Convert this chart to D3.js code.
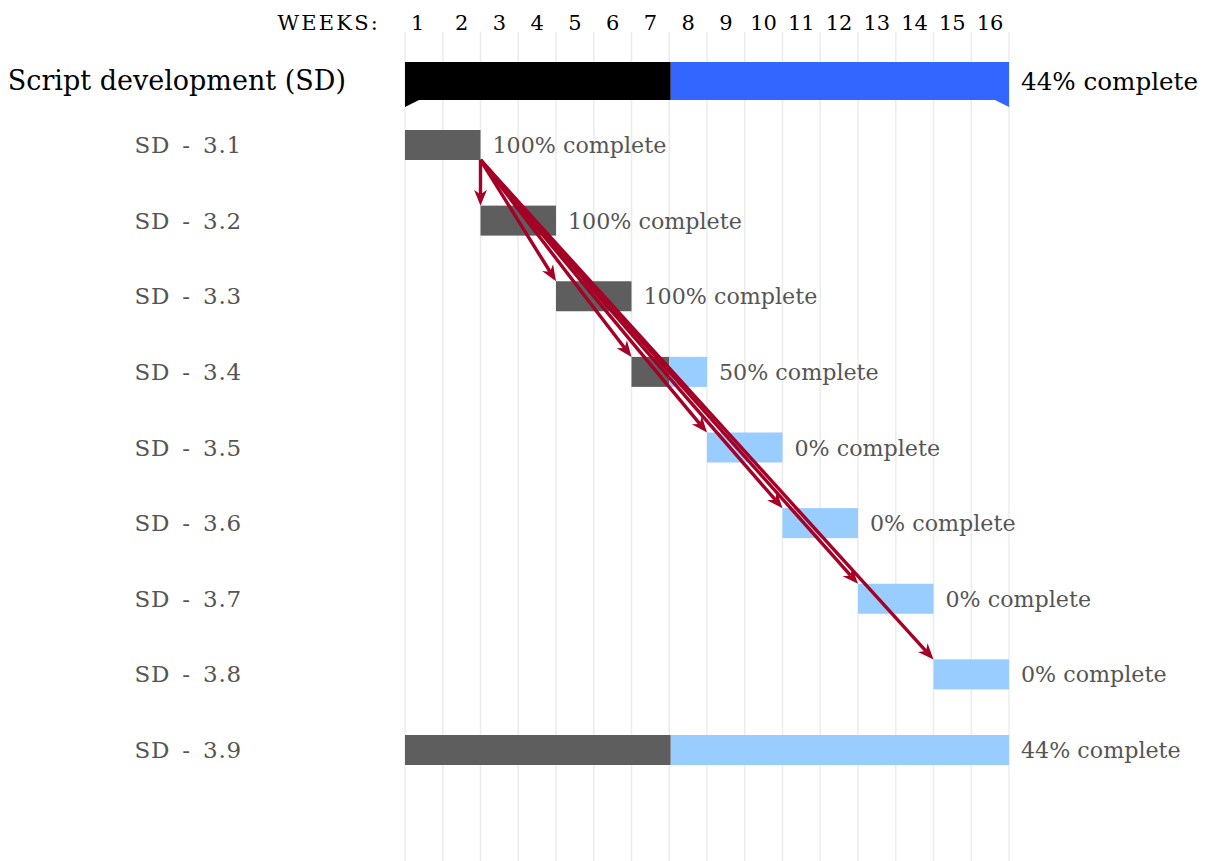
<!DOCTYPE html>
<html><head><meta charset="utf-8">
<script src="https://cdn.jsdelivr.net/npm/d3@7"></script>
<style>body{margin:0;background:#fff}svg{display:block}</style>
</head><body>
<svg id="c" width="1207" height="861"></svg>
<script>
const weeks = ["1","2","3","4","5","6","7","8","9","10","11","12","13","14","15","16"];
const groupName = "Script development (SD)";
const groupStart = 1, groupEnd = 16, groupProgress = 44;
const taskNames = ["SD - 3.1","SD - 3.2","SD - 3.3","SD - 3.4","SD - 3.5","SD - 3.6","SD - 3.7","SD - 3.8","SD - 3.9"];
const taskStart = [1, 3, 5, 7, 9, 11, 13, 15, 1];
const taskEnd   = [2, 4, 6, 8, 10, 12, 14, 16, 16];
const taskProgress = [100, 100, 100, 50, 0, 0, 0, 0, 44];
const linkFrom = ["SD - 3.1","SD - 3.1","SD - 3.1","SD - 3.1","SD - 3.1","SD - 3.1","SD - 3.1"];
const linkTo   = ["SD - 3.2","SD - 3.3","SD - 3.4","SD - 3.5","SD - 3.6","SD - 3.7","SD - 3.8"];

const FONT = "'DejaVu Serif', serif";
const svg = d3.select("#c");
const x = d3.scaleLinear().domain([0, 16]).range([405, 1009]);
const y = d3.scalePoint().domain(taskNames).range([145, 750]);
const groupY = 81;
const barH = 30, groupH = 38;

// grid
svg.append("g").selectAll("line").data(d3.range(0, 17)).join("line")
  .attr("x1", d => x(d)).attr("x2", d => x(d)).attr("y1", 32).attr("y2", 861)
  .attr("stroke", "#ececec").attr("stroke-width", 1.5);

// header
const hdr = svg.append("g").attr("font-family", FONT).attr("font-size", 21).attr("fill", "#000");
hdr.append("text").attr("x", 380).attr("y", 30).attr("text-anchor", "end").attr("letter-spacing", 2.2).text("WEEKS:");
hdr.selectAll("text.w").data(weeks).join("text").attr("class", "w")
  .attr("x", (d, i) => i === 0 ? x(0) + 6 : x(i + 0.5))
  .attr("y", 30).attr("text-anchor", (d, i) => i === 0 ? "start" : "middle").text(d => d);

// group bar
const gx0 = x(groupStart - 1), gx1 = x(groupEnd), gxp = gx0 + (gx1 - gx0) * groupProgress / 100;
svg.append("rect").attr("x", gx0).attr("y", groupY - groupH / 2).attr("width", gxp - gx0).attr("height", groupH).attr("fill", "#000");
svg.append("rect").attr("x", gxp).attr("y", groupY - groupH / 2).attr("width", gx1 - gxp).attr("height", groupH).attr("fill", "#3366FF");
const gb = groupY + groupH / 2;
svg.append("path").attr("d", `M${gx0},${gb - 1}L${gx0 + 16},${gb - 1}L${gx0},${gb + 7}Z`).attr("fill", "#000");
svg.append("path").attr("d", `M${gx1},${gb - 1}L${gx1 - 16},${gb - 1}L${gx1},${gb + 7}Z`).attr("fill", "#3366FF");
svg.append("text").attr("x", 346).attr("y", groupY + 9).attr("text-anchor", "end")
  .attr("font-family", FONT).attr("font-size", 27).attr("fill", "#000").text(groupName);
svg.append("text").attr("x", gx1 + 12).attr("y", groupY + 9)
  .attr("font-family", FONT).attr("font-size", 24.6).attr("fill", "#000").text(groupProgress + "% complete");

// task bars
const tasks = taskNames.map((n, i) => ({ n, s: taskStart[i], e: taskEnd[i], p: taskProgress[i] }));
const tg = svg.append("g");
tasks.forEach(t => {
  const x0 = x(t.s - 1), x1 = x(t.e), xp = x0 + (x1 - x0) * t.p / 100;
  const yt = y(t.n) - barH / 2;
  if (xp > x0) tg.append("rect").attr("x", x0).attr("y", yt).attr("width", xp - x0).attr("height", barH).attr("fill", "#5e5e5e");
  if (x1 > xp) tg.append("rect").attr("x", xp).attr("y", yt).attr("width", x1 - xp).attr("height", barH).attr("fill", "#99ccff");
  tg.append("text").attr("x", x1 + 12).attr("y", y(t.n) + 8).attr("font-family", FONT).attr("font-size", 22.2)
    .attr("fill", "#555").text(t.p + "% complete");
  tg.append("text").attr("x", 242).attr("y", y(t.n) + 8).attr("text-anchor", "end").attr("font-family", FONT).attr("font-size", 23)
    .attr("word-spacing", 4).attr("letter-spacing", 0.8).attr("fill", "#555").text(t.n);
});

// links
const byName = Object.fromEntries(tasks.map(t => [t.n, t]));
const lg = svg.append("g");
linkFrom.forEach((f, i) => {
  const a = byName[f], b = byName[linkTo[i]];
  const sx = x(a.e), sy = y(a.n) + barH / 2;
  const tx = x(b.s - 1), ty = y(b.n) - barH / 2;
  const ang = Math.atan2(ty - sy, tx - sx);
  const L = 16, W = 6.5;
  const bx = tx - L * Math.cos(ang), by = ty - L * Math.sin(ang);
  const nx = -Math.sin(ang), ny = Math.cos(ang);
  const ix = tx - (L * 0.7) * Math.cos(ang), iy = ty - (L * 0.7) * Math.sin(ang);
  lg.append("line").attr("x1", sx).attr("y1", sy).attr("x2", ix).attr("y2", iy)
    .attr("stroke", "#a50026").attr("stroke-width", 3.4);
  lg.append("path").attr("d", `M${tx},${ty}L${bx + nx * W},${by + ny * W}L${ix},${iy}L${bx - nx * W},${by - ny * W}Z`)
    .attr("fill", "#a50026");
});
</script>
</body></html>
